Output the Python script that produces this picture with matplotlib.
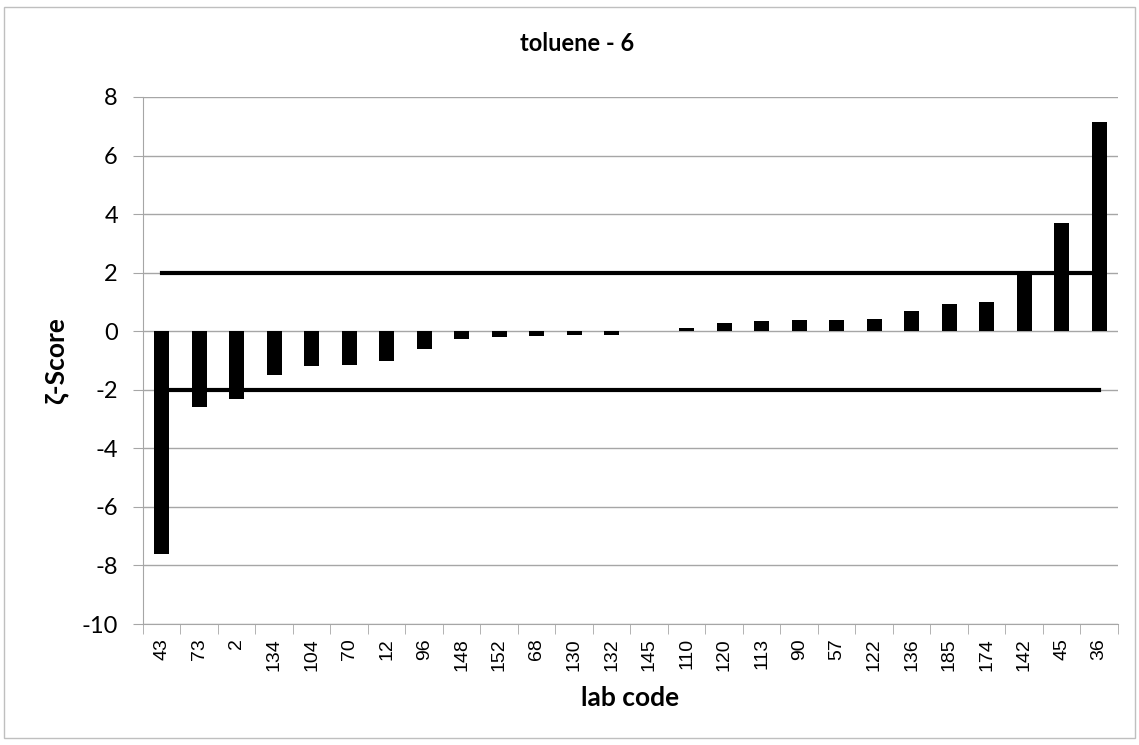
import numpy as np
import matplotlib
matplotlib.use('Agg')
import matplotlib.pyplot as plt
from matplotlib.patches import Rectangle

# lab codes, sorted by score
lab_codes = ['43', '73', '2', '134', '104', '70', '12', '96', '148', '152', '68', '130',
             '132', '145', '110', '120', '113', '90', '57', '122', '136', '185', '174',
             '142', '45', '36']
zeta_scores = [-7.62, -2.60, -2.33, -1.49, -1.19, -1.15, -1.03, -0.62, -0.25, -0.20,
               -0.15, -0.14, -0.12, 0.02, 0.12, 0.29, 0.36, 0.39, 0.40, 0.42, 0.70,
               0.93, 1.00, 2.02, 3.71, 7.15]
upper_limit = 2
lower_limit = -2

plt.rcParams['axes.unicode_minus'] = False
label_font = ['Lato', 'DejaVu Sans']
tick_font = ['Liberation Sans', 'DejaVu Sans']
grid_grey = '#a6a6a6'

fig = plt.figure(figsize=(11.39, 7.45), dpi=100)
ax = fig.add_axes([0.1255, 0.1624, 0.856, 0.7074])

x = np.arange(len(lab_codes))
ax.bar(x, zeta_scores, width=0.4, color='black', zorder=3)

# limit lines drawn across the category centres
ax.plot(x, [upper_limit] * len(x), color='black', linewidth=3, zorder=4)
ax.plot(x, [lower_limit] * len(x), color='black', linewidth=3, zorder=4)

ax.set_xlim(-0.5, len(x) - 0.5)
ax.set_ylim(-10, 8)
ax.set_yticks(np.arange(-10, 9, 2))
ax.yaxis.grid(True, color=grid_grey, linewidth=1)
ax.set_axisbelow(True)

ax.set_xticks(x)
ax.set_xticklabels(lab_codes, fontsize=14, family=tick_font)
ax.set_xticks(np.arange(-0.5, len(x), 1), minor=True)
ax.tick_params(axis='x', which='major', length=0, pad=10, labelrotation=90)
ax.tick_params(axis='x', which='minor', length=7, color=grid_grey, direction='out')
ax.tick_params(axis='y', length=7, color=grid_grey, labelsize=17, pad=11)
for lbl in ax.get_yticklabels():
    lbl.set_family(label_font)

for side in ['top', 'right']:
    ax.spines[side].set_visible(False)
for side in ['left', 'bottom']:
    ax.spines[side].set_color(grid_grey)

fig.text(0.5066, 0.941, 'toluene - 6', fontsize=17, fontweight='bold', family=label_font,
         ha='center', va='center')
ax.set_xlabel('lab code', fontsize=19, fontweight='bold', family=label_font)
ax.xaxis.set_label_coords(0.5, -0.118)
ax.set_ylabel('ζ-Score', fontsize=19, fontweight='bold', family=label_font)
ax.yaxis.set_label_coords(-0.077, 0.5)

# outer chart frame
fig.patches.append(Rectangle((0.0035, 0.009), 0.993, 0.9816, transform=fig.transFigure,
                             fill=False, edgecolor='#bfbfbf', linewidth=1))

fig.savefig('out.png', dpi=100)
